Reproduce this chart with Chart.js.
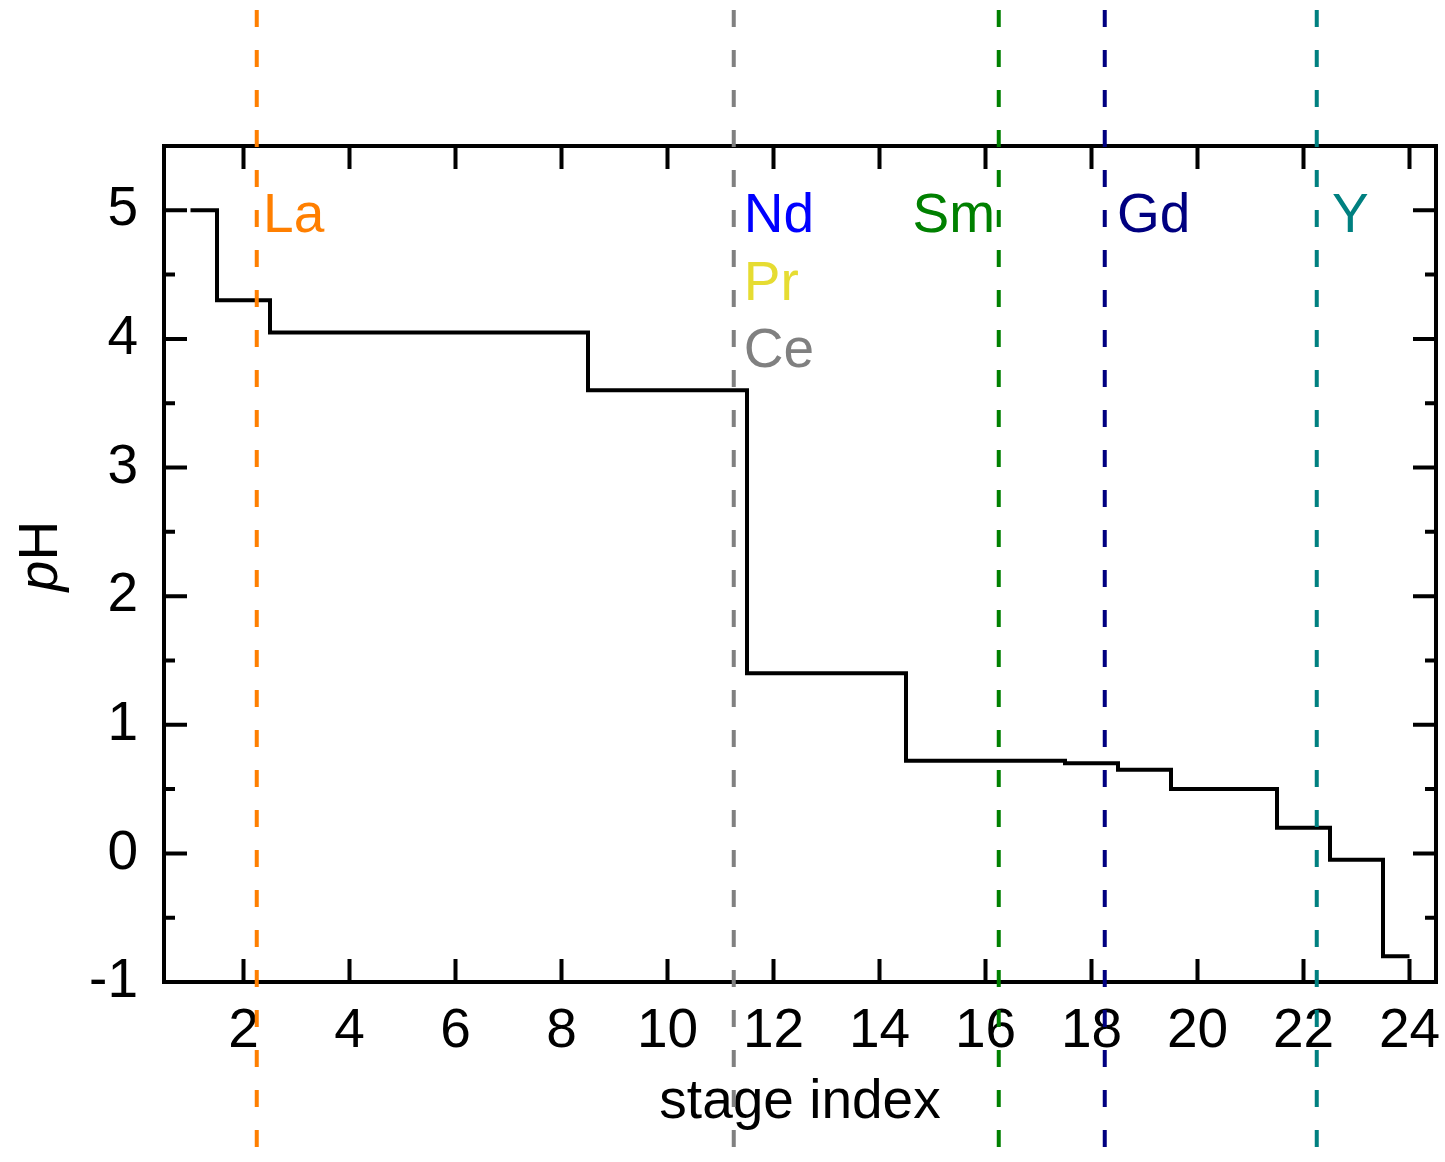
<!DOCTYPE html>
<html>
<head>
<meta charset="utf-8">
<script src="https://cdn.jsdelivr.net/npm/chart.js@4"></script>
<style>body{margin:0;background:#fff}</style>
</head>
<body>
<canvas id="chart1" width="1445" height="1162"></canvas>
<script>
// pH set point for every stage of the cascade
var stages = [1, 2, 3, 4, 5, 6, 7, 8, 9, 10, 11, 12, 13, 14, 15, 16, 17, 18, 19, 20, 21, 22, 23, 24];
var ph = [5.0, 4.3, 4.05, 4.05, 4.05, 4.05, 4.05, 4.05, 3.6, 3.6, 3.6, 1.4, 1.4, 1.4,
  0.72, 0.72, 0.72, 0.7, 0.65, 0.5, 0.5, 0.2, -0.05, -0.8];

var xTicks = [2, 4, 6, 8, 10, 12, 14, 16, 18, 20, 22, 24];
var yTicks = [-1, -0.5, 0, 0.5, 1, 1.5, 2, 2.5, 3, 3.5, 4, 4.5, 5, 5.5];

// dashed cut positions between element groups
var cutX = [2.25, 11.25, 16.25, 18.25, 22.25];
var cutColors = ['#ff7f00', '#808080', '#008000', '#000080', '#008080'];

// element names, where they sit (data units) and their colours
var elemNames = ['La', 'Nd', 'Pr', 'Ce', 'Sm', 'Gd', 'Y'];
var elemX = [2.37, 11.44, 11.44, 11.44, 16.18, 18.48, 22.54];
var elemY = [4.83, 4.83, 4.30, 3.78, 4.83, 4.83, 4.83];
var elemAlign = ['left', 'left', 'left', 'left', 'right', 'left', 'left'];
var elemColors = ['#ff7f00', '#0000ff', '#e6dc32', '#808080', '#008000', '#000080', '#008080'];

var FONT = '"Liberation Sans", Arial, sans-serif';
Chart.defaults.font.family = FONT;
Chart.defaults.font.size = 55;
Chart.defaults.color = '#000';

var decor = {
  id: 'decor',
  afterDraw: function (chart) {
    var ctx = chart.ctx, a = chart.chartArea, x = chart.scales.x, y = chart.scales.y;
    ctx.save();

    // frame + inward ticks on all four sides
    ctx.strokeStyle = '#000';
    ctx.lineWidth = 4;
    ctx.strokeRect(a.left, a.top, a.right - a.left, a.bottom - a.top);
    ctx.beginPath();
    x.ticks.forEach(function (t) {
      var px = x.getPixelForValue(t.value);
      ctx.moveTo(px, a.bottom); ctx.lineTo(px, a.bottom - 23);
      ctx.moveTo(px, a.top); ctx.lineTo(px, a.top + 23);
    });
    y.ticks.forEach(function (t) {
      var py = y.getPixelForValue(t.value);
      var len = Number.isInteger(t.value) ? 23 : 11;
      ctx.moveTo(a.left, py); ctx.lineTo(a.left + len, py);
      ctx.moveTo(a.right, py); ctx.lineTo(a.right - len, py);
    });
    ctx.stroke();

    // axis titles
    ctx.fillStyle = '#000';
    ctx.font = '55px ' + FONT;
    ctx.textAlign = 'center';
    ctx.textBaseline = 'alphabetic';
    ctx.fillText('stage index', (a.left + a.right) / 2, 1118);

    ctx.save();
    ctx.translate(57, 556);
    ctx.rotate(-Math.PI / 2);
    ctx.textAlign = 'left';
    ctx.font = 'italic 55px ' + FONT;
    var wp = ctx.measureText('p').width;
    ctx.font = '55px ' + FONT;
    var wH = ctx.measureText('H').width;
    var sx = -(wp + wH) / 2;
    ctx.font = 'italic 55px ' + FONT;
    ctx.fillText('p', sx, 0);
    ctx.font = '55px ' + FONT;
    ctx.fillText('H', sx + wp, 0);
    ctx.restore();

    // element labels
    ctx.font = '55px ' + FONT;
    ctx.textBaseline = 'alphabetic';
    elemNames.forEach(function (n, i) {
      ctx.fillStyle = elemColors[i];
      ctx.textAlign = elemAlign[i];
      ctx.fillText(n, x.getPixelForValue(elemX[i]), y.getPixelForValue(elemY[i]));
    });

    // dashed cut lines across the whole figure
    ctx.lineWidth = 4;
    ctx.setLineDash([17, 23]);
    ctx.lineDashOffset = 30;
    cutX.forEach(function (v, i) {
      var px = x.getPixelForValue(v);
      ctx.strokeStyle = cutColors[i];
      ctx.beginPath();
      ctx.moveTo(px, 0);
      ctx.lineTo(px, chart.height);
      ctx.stroke();
    });

    ctx.restore();
  }
};

var chart1 = new Chart(document.getElementById('chart1').getContext('2d'), {
  type: 'line',
  data: {
    datasets: [
      {
        data: stages.map(function (s, i) { return { x: s, y: ph[i] }; }),
        stepped: 'middle',
        borderColor: '#000',
        borderWidth: 4,
        pointRadius: 0,
        fill: false
      }
    ]
  },
  options: {
    responsive: false,
    animation: false,
    layout: { padding: { top: 146, right: 9, left: 0, bottom: 0 } },
    plugins: { legend: { display: false }, tooltip: { enabled: false } },
    scales: {
      x: {
        type: 'linear',
        min: 0.5,
        max: 24.5,
        grid: { display: false, drawTicks: false },
        border: { display: false },
        afterBuildTicks: function (s) { s.ticks = xTicks.map(function (v) { return { value: v }; }); },
        afterFit: function (s) { s.height = 180; s.paddingLeft = 0; s.paddingRight = 0; },
        ticks: { padding: 17, maxRotation: 0, autoSkip: false }
      },
      y: {
        min: -1,
        max: 5.5,
        grid: { display: false, drawTicks: false },
        border: { display: false },
        afterBuildTicks: function (s) { s.ticks = yTicks.map(function (v) { return { value: v }; }); },
        afterFit: function (s) { s.width = 164; s.paddingTop = 0; s.paddingBottom = 0; },
        ticks: {
          padding: 26,
          autoSkip: false,
          callback: function (v) { return Number.isInteger(v) ? String(v) : ''; }
        }
      }
    }
  },
  plugins: [decor]
});
</script>
</body>
</html>
